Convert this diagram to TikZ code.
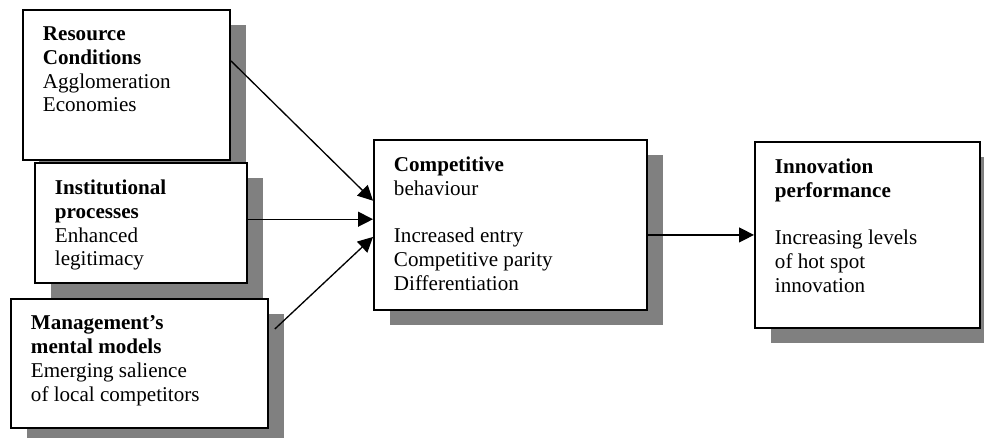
\documentclass[tikz,border=0pt]{standalone}
\usepackage{fontspec}
\setmainfont{Liberation Serif}
\usetikzlibrary{positioning,arrows.meta,shadows}
\tikzset{G box/.style={draw,line width=1.1pt,fill=white,anchor=north west,inner xsep=0.4cm,inner ysep=0.34cm,
		font=\fontsize{12}{13.5}\selectfont,
		drop shadow={shadow xshift=0.32cm,shadow yshift=-0.3cm,fill=gray,opacity=1}},
	G arrow/.style={line width=0.75pt,-{Triangle[length=8.5pt,width=8.5pt]}},}
\newcommand{\boxtxt}[3]{\parbox[c][#2][t]{#1}{#3}}

\begin{document}
\begin{tikzpicture}[x=0.02cm,y=-0.02cm]
			\useasboundingbox (0,0) rectangle (984,438);

			\node[G box] (res) at (22,9) {\boxtxt{3.34cm}{2.32cm}{\textbf{Resource}\\ \textbf{Conditions}\\ Agglomeration\\ Economies}};
			\node[G box] (inst) at (34,162) {\boxtxt{3.44cm}{1.72cm}{\textbf{Institutional}\\ \textbf{processes}\\ Enhanced\\ legitimacy}};
			\node[G box] (mgmt) at (10,298) {\boxtxt{4.34cm}{1.9cm}{\textbf{Management's}\\ \textbf{mental models}\\ Emerging salience\\ of local competitors}};
			\node[G box] (comp) at (373,139) {\boxtxt{4.66cm}{2.72cm}{\textbf{Competitive}\\ behaviour\\[13.5pt] Increased entry\\ Competitive parity\\ Differentiation}};
			\node[G box] (inno) at (754,141) {\boxtxt{3.7cm}{3.04cm}{\textbf{Innovation}\\ \textbf{performance}\\[13.5pt] Increasing levels\\ of hot spot\\ innovation}};

			\path[G arrow]
				(res.13) edge (comp.170)
				(inst.2) edge (inst.2 -| comp.west)
				([shift={(0.12cm,0.69cm)}]mgmt.east) edge (comp.185)
				(inno.west -| comp.east) edge (inno.west);
		\end{tikzpicture}
\end{document}
